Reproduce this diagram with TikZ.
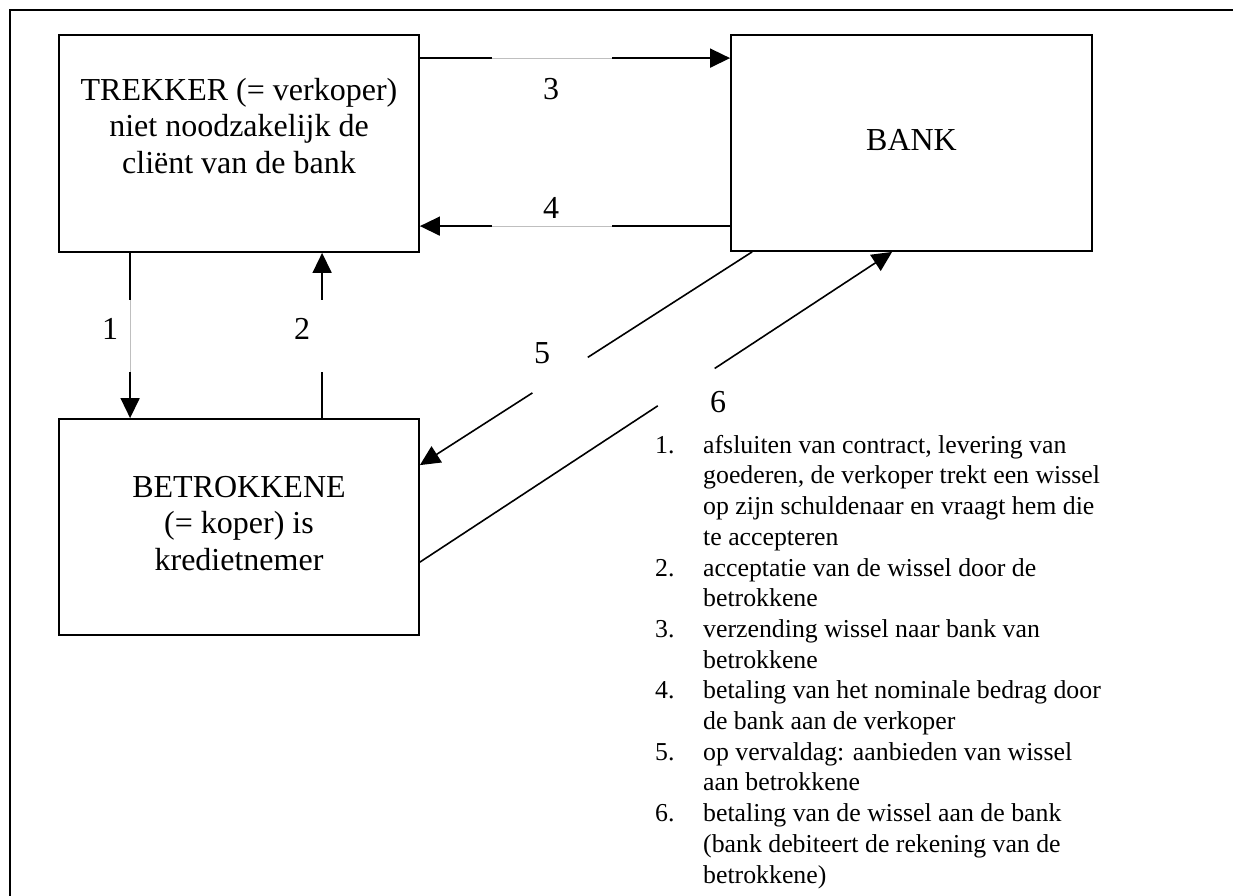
\documentclass[tikz,border=0pt]{standalone}
\usepackage{fontspec}
\setmainfont{Liberation Serif}
\usetikzlibrary{arrows.meta,calc}
\begin{document}
\begin{tikzpicture}[x=1pt,y=-1pt,
  frame/.style={line width=1.8pt},
  box/.style={draw, line width=1.8pt, rectangle, inner sep=0pt},
  boxtext/.style={anchor=north, inner sep=0pt, font=\fontsize{32}{36.7}\selectfont},
  lbl/.style={anchor=base, inner sep=0pt, font=\fontsize{32}{36.7}\selectfont},
  listtxt/.style={anchor=north west, inner sep=0pt, font=\fontsize{25.8}{30.7}\selectfont},
  arr/.style={line width=1.6pt, -{Triangle[length=20pt,width=19pt]}},
  gapcover/.style={white, line width=5pt},
  faint/.style={black!25, line width=0.6pt},
]
\useasboundingbox (0,0) rectangle (1233,895);
% outer frame
\draw[frame] (10,900) -- (10,10) -- (1240,10);

% boxes
\node[box, minimum width=360pt, minimum height=217pt] (trek) at (239,143.5) {};
\node[box, minimum width=361pt, minimum height=216pt] (bank) at (911.5,143) {};
\node[box, minimum width=360pt, minimum height=216pt] (betr) at (239,527) {};

% box texts
\node[boxtext] (trektxt) at (239,74.3) {\begin{tabular}{@{}c@{}}TREKKER (= verkoper)\\niet noodzakelijk de\\cliënt van de bank\end{tabular}};
\node[boxtext] (banktxt) at (911.5,124.3) {\begin{tabular}{@{}c@{}}BANK\end{tabular}};
\node[boxtext] (betrtxt) at (239,471.3) {\begin{tabular}{@{}c@{}}BETROKKENE\\(= koper) is\\kredietnemer\end{tabular}};

% connector end points
\coordinate (a1s) at ($(trek.south west)+(72,0)$);
\coordinate (a1e) at ($(betr.north west)+(72,0)$);
\coordinate (a2s) at ($(betr.north west)+(264,0)$);
\coordinate (a2e) at ($(trek.south west)+(264,0)$);
\coordinate (a3s) at ($(trek.north east)+(0,24)$);
\coordinate (a3e) at ($(bank.north west)+(0,24)$);
\coordinate (a4s) at ($(bank.north west)+(0,192)$);
\coordinate (a4e) at ($(trek.north east)+(0,192)$);
\coordinate (a5s) at ($(bank.south west)+(22,0)$);
\coordinate (a5e) at ($(betr.north east)+(0,47)$);
\coordinate (a6s) at ($(betr.north east)+(0,144)$);
\coordinate (a6e) at ($(bank.south west)+(162,0)$);

% arrows
\draw[arr] (a1s) -- (a1e);
\draw[arr] (a2s) -- (a2e);
\draw[arr] (a3s) -- (a3e);
\draw[arr] (a4s) -- (a4e);
\draw[arr] (a5s) -- (a5e);
\draw[arr] (a6s) -- (a6e);

% gaps where the label boxes cover the lines
\draw[gapcover] ($(a1s)!0.287!(a1e)$) -- ($(a1s)!0.719!(a1e)$);
\draw[faint] ($(a1s)!0.287!(a1e)$) -- ($(a1s)!0.719!(a1e)$);
\draw[gapcover] ($(a2s)!0.281!(a2e)$) -- ($(a2s)!0.713!(a2e)$);
\draw[gapcover] ($(a3s)!0.231!(a3e)$) -- ($(a3s)!0.619!(a3e)$);
\draw[faint] ($(a3s)!0.231!(a3e)$) -- ($(a3s)!0.619!(a3e)$);
\draw[gapcover] ($(a4s)!0.381!(a4e)$) -- ($(a4s)!0.769!(a4e)$);
\draw[faint] ($(a4s)!0.381!(a4e)$) -- ($(a4s)!0.769!(a4e)$);
\draw[gapcover] ($(a5s)!0.495!(a5e)$) -- ($(a5s)!0.661!(a5e)$);
\draw[gapcover] ($(a6s)!0.504!(a6e)$) -- ($(a6s)!0.624!(a6e)$);

% labels
\node[lbl] (l1) at (110,339) {1};
\node[lbl] (l2) at (302,339) {2};
\node[lbl] (l3) at (551,99) {3};
\node[lbl] (l4) at (551,218) {4};
\node[lbl] (l5) at (542,363) {5};
\node[lbl] (l6) at (718,412) {6};

% legend
\node[listtxt] (legend) at (655,431.5) {\begin{tabular}{@{}p{48pt}@{}l@{}}
1. & afsluiten van contract, levering van\\
 & goederen, de verkoper trekt een wissel\\
 & op zijn schuldenaar en vraagt hem die\\
 & te accepteren\\
2. & acceptatie van de wissel door de\\
 & betrokkene\\
3. & verzending wissel naar bank van\\
 & betrokkene\\
4. & betaling van het nominale bedrag door\\
 & de bank aan de verkoper\\
5. & op vervaldag: aanbieden van wissel\\
 & aan betrokkene\\
6. & betaling van de wissel aan de bank\\
 & (bank debiteert de rekening van de\\
 & betrokkene)
\end{tabular}};
\end{tikzpicture}
\end{document}
